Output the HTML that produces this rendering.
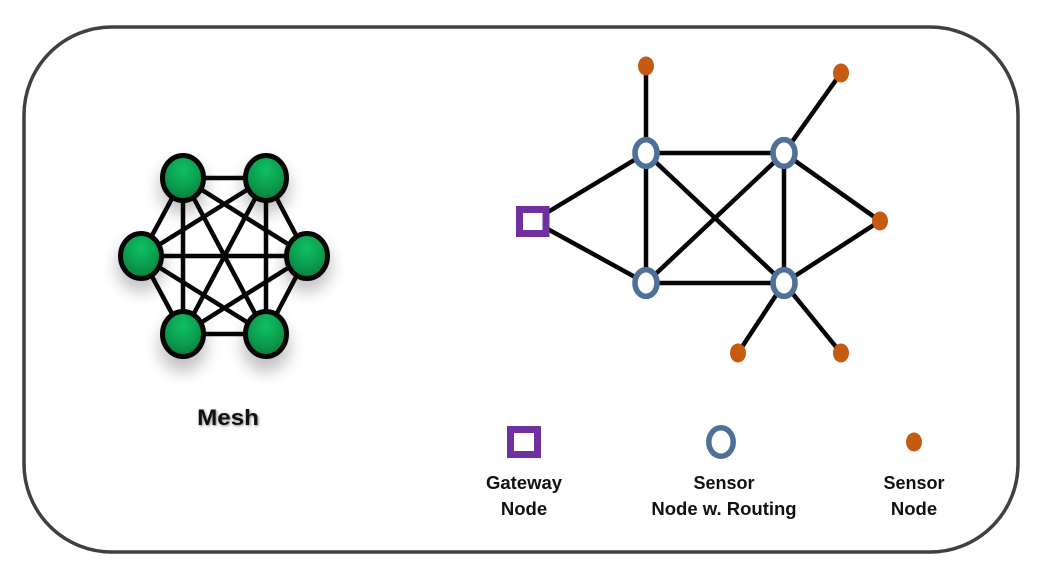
<!DOCTYPE html>
<html>
<head>
<meta charset="utf-8">
<style>
html,body{margin:0;padding:0;background:#fff;width:1043px;height:580px;overflow:hidden}
svg{display:block}
text{font-family:"Liberation Sans",sans-serif;font-weight:bold;fill:#111;text-anchor:middle;font-size:18.500px}
</style>
</head>
<body>
<svg width="1043" height="580" viewBox="0 0 1043 580" xmlns="http://www.w3.org/2000/svg">
<defs>
<radialGradient id="g" cx="50%" cy="32%" r="68%">
<stop offset="0%" stop-color="#0fc064"/>
<stop offset="60%" stop-color="#0b9c4e"/>
<stop offset="100%" stop-color="#0a7c3e"/>
</radialGradient>
<filter id="s" x="-80%" y="-80%" width="260%" height="260%"><feGaussianBlur stdDeviation="8"/></filter>
<filter id="ts" x="-20%" y="-40%" width="140%" height="180%"><feGaussianBlur stdDeviation="1.2"/></filter>
</defs>
<rect x="24" y="27" width="994" height="525" rx="88" ry="88" fill="#fff" stroke="#404040" stroke-width="3.500"/>

<g fill="#000" opacity=".24" filter="url(#s)">
<ellipse cx="183" cy="188" rx="24" ry="26"/><ellipse cx="266" cy="188" rx="24" ry="26"/>
<ellipse cx="141" cy="266" rx="24" ry="26"/><ellipse cx="307" cy="266" rx="24" ry="26"/>
<ellipse cx="183" cy="346" rx="24" ry="26"/><ellipse cx="266" cy="346" rx="24" ry="26"/>
</g>
<g stroke="#050505" stroke-width="4.500" fill="none">
<path d="M183 178L266 178M183 334L266 334M141 256L307 256M183 178L183 334M266 178L266 334M183 178L141 256M141 256L183 334M266 178L307 256M307 256L266 334M183 178L307 256M183 178L266 334M266 178L141 256M266 178L183 334M141 256L266 334M307 256L183 334"/>
</g>
<g fill="url(#g)" stroke="#050505" stroke-width="5">
<ellipse cx="183" cy="178" rx="20.500" ry="22.500"/><ellipse cx="266" cy="178" rx="20.500" ry="22.500"/>
<ellipse cx="141" cy="256" rx="20.500" ry="22.500"/><ellipse cx="307" cy="256" rx="20.500" ry="22.500"/>
<ellipse cx="183" cy="334" rx="20.500" ry="22.500"/><ellipse cx="266" cy="334" rx="20.500" ry="22.500"/>
</g>
<text transform="translate(229,426) scale(1.100,1)" style="font-size:22px;fill:#888" filter="url(#ts)">Mesh</text>
<text transform="translate(228,425) scale(1.100,1)" style="font-size:22px">Mesh</text>

<g stroke="#050505" stroke-width="4.500" fill="none">
<path d="M533 221L646 153M533 221L646 283M646 66L646 283M646 153L784 153M646 283L784 283M784 153L784 283M646 153L784 283M646 283L784 153M784 153L841 73M784 153L880 221M784 283L880 221M784 283L738 353M784 283L841 353"/>
</g>
<rect x="519.500" y="209.500" width="26.500" height="24" fill="#fff" stroke="#7030a0" stroke-width="7"/>
<g fill="#fff" stroke="#4f7199" stroke-width="5.600">
<ellipse cx="646" cy="153" rx="11" ry="13.300"/><ellipse cx="784" cy="153" rx="11" ry="13.300"/>
<ellipse cx="646" cy="283" rx="11" ry="13.300"/><ellipse cx="784" cy="283" rx="11" ry="13.300"/>
</g>
<g fill="#c55a11">
<ellipse cx="646" cy="66" rx="8" ry="9.500"/><ellipse cx="841" cy="73" rx="8" ry="9.500"/>
<ellipse cx="880" cy="221" rx="8" ry="9.500"/><ellipse cx="738" cy="353" rx="8" ry="9.500"/>
<ellipse cx="841" cy="353" rx="8" ry="9.500"/>
</g>

<rect x="510.500" y="429.500" width="27" height="25" fill="#fff" stroke="#7030a0" stroke-width="7"/>
<ellipse cx="721" cy="442" rx="12.200" ry="14.200" fill="#fff" stroke="#4f7199" stroke-width="5.500"/>
<ellipse cx="914" cy="442" rx="8" ry="9.500" fill="#c55a11"/>

<text x="524" y="489">Gateway</text>
<text x="524" y="515">Node</text>
<text x="724" y="489" style="font-size:18px">Sensor</text>
<text x="724" y="515">Node w. Routing</text>
<text x="914" y="489" style="font-size:18px">Sensor</text>
<text x="914" y="515">Node</text>
</svg>
</body>
</html>
